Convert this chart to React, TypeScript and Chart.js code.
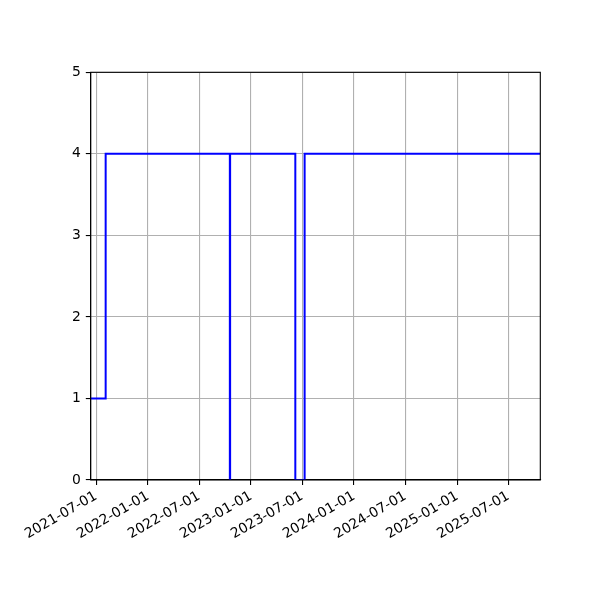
import React, { useEffect, useRef } from "react";
import { Chart, registerables } from "chart.js";

Chart.register(...registerables);

const DAY = 86400000;
const toDay = (s: string) => {
  const [y, m, d] = s.split("-").map(Number);
  return Date.UTC(y, m - 1, d) / DAY;
};
const fmt = (v: number) => new Date(Math.round(v) * DAY).toISOString().slice(0, 10);

// Step series (value holds until next date)
const dates = [
  "2021-06-12",
  "2021-08-04",
  "2022-10-18",
  "2022-10-19",
  "2023-06-07",
  "2023-07-10",
  "2025-10-22",
];
const values = [1, 4, 0, 4, 0, 4, 4];

const xTickLabels = [
  "2021-07-01",
  "2022-01-01",
  "2022-07-01",
  "2023-01-01",
  "2023-07-01",
  "2024-01-01",
  "2024-07-01",
  "2025-01-01",
  "2025-07-01",
];
const yTicks = [0, 1, 2, 3, 4, 5];

const frame = {
  id: "frame",
  afterDraw(chart: any) {
    const { ctx, chartArea: a } = chart;
    ctx.save();
    ctx.strokeStyle = "#000";
    ctx.lineWidth = 1.1;
    ctx.strokeRect(a.left, a.top, a.right - a.left, a.bottom - a.top);
    ctx.restore();
  },
};

export default function App() {
  const ref = useRef<HTMLCanvasElement>(null);
  useEffect(() => {
    const font = { family: "'DejaVu Sans'", size: 13.9 };
    const chart = new Chart(ref.current!, {
      type: "line",
      data: {
        datasets: [
          {
            data: dates.map((d, i) => ({ x: toDay(d), y: values[i] })),
            borderColor: "#0000ff",
            borderWidth: 2,
            pointRadius: 0,
            stepped: "before",
            fill: false,
          },
        ],
      },
      options: {
        animation: false,
        responsive: false,
        devicePixelRatio: 1,
        layout: { padding: { top: 72.3, right: 59.7, left: 0, bottom: 0 } },
        plugins: { legend: { display: false }, tooltip: { enabled: false } },
        scales: {
          x: {
            type: "linear",
            min: toDay(dates[0]),
            max: toDay(dates[dates.length - 1]),
            afterBuildTicks: (s: any) => {
              s.ticks = xTickLabels.map((t) => ({ value: toDay(t) }));
            },
            afterFit: (s: any) => {
              s.height = 120;
            },
            ticks: {
              autoSkip: false,
              maxRotation: 30,
              minRotation: 30,
              padding: 3,
              color: "#000",
              font,
              callback: (v: any) => fmt(Number(v)),
            },
            grid: {
              color: "#b0b0b0",
              lineWidth: 1.1,
              tickLength: 4.9,
              tickColor: "#000",
              tickWidth: 1.1,
            },
            border: { color: "#000", width: 1.1 },
          },
          y: {
            type: "linear",
            min: 0,
            max: 5,
            afterBuildTicks: (s: any) => {
              s.ticks = yTicks.map((v) => ({ value: v }));
            },
            afterFit: (s: any) => {
              s.width = 90.7;
            },
            ticks: { color: "#000", font, padding: 4.9 },
            grid: {
              color: "#b0b0b0",
              lineWidth: 1.1,
              tickLength: 4.9,
              tickColor: "#000",
              tickWidth: 1.1,
            },
            border: { color: "#000", width: 1.1 },
          },
        },
      },
      plugins: [frame],
    });
    return () => chart.destroy();
  }, []);
  return (
    <div style={{ position: "absolute", left: 0, top: 0, width: 600, height: 600, background: "#fff" }}>
      <canvas ref={ref} width={600} height={600} style={{ width: 600, height: 600 }} />
    </div>
  );
}
